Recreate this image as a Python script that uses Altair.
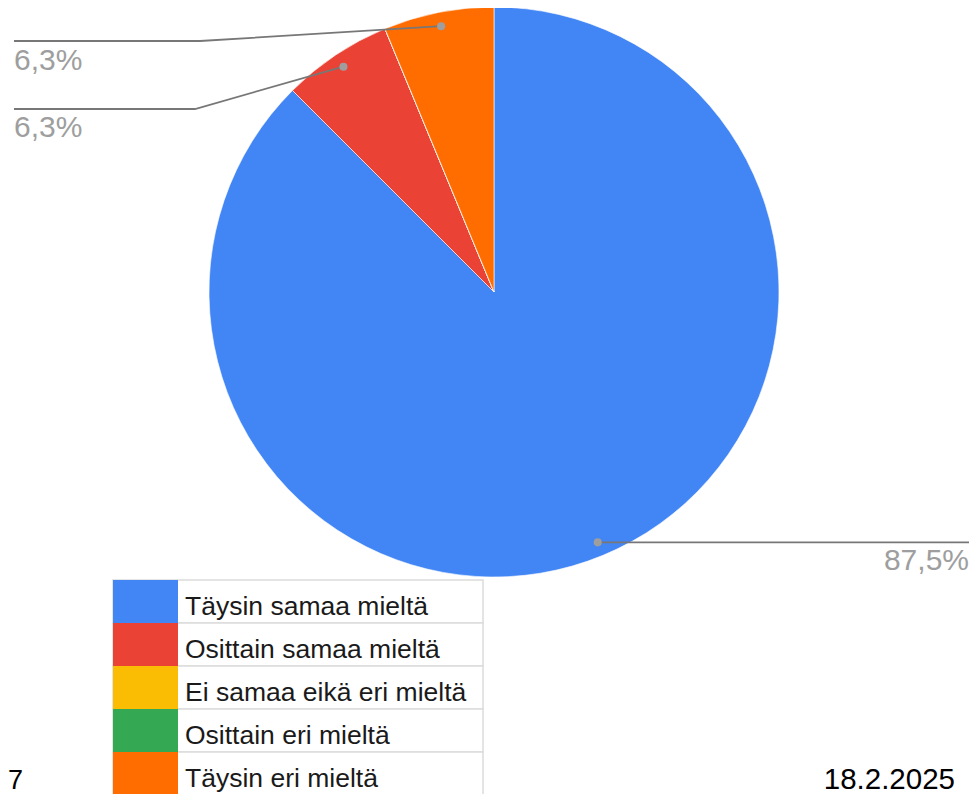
import math
import altair as alt
import pandas as pd

# ---- data ----
categories = ["Täysin samaa mieltä", "Osittain samaa mieltä", "Ei samaa eikä eri mieltä",
              "Osittain eri mieltä", "Täysin eri mieltä"]
values = [87.5, 6.25, 0, 0, 6.25]
colors = ["#4285F4", "#EA4335", "#FBBC04", "#34A853", "#FF6D01"]
footer_left = "7"
footer_right = "18.2.2025"

# ---- layout (chart pixel space) ----
W, H = 961, 786
CX, CY, R = 486, 284, 285
R_DOT = 271

pie_df = pd.DataFrame({"cat": categories, "value": values, "idx": list(range(len(categories)))})

color_scale = alt.Scale(domain=categories, range=colors)

pie = alt.Chart(pie_df).mark_arc(radius=R, stroke="white", strokeWidth=0.6).encode(
    theta=alt.Theta("value:Q", stack=True),
    order=alt.Order("idx:Q"),
    color=alt.Color("cat:N", scale=color_scale, legend=None),
    x=alt.value(CX), y=alt.value(CY),
)

# dots at slice centres, computed from the data
total = sum(values)
cum = 0.0
dots = []
for c, v in zip(categories, values):
    if v > 0:
        mid = (cum + v / 2) / total * 2 * math.pi
        label = (f"{math.floor(v * 10 + 0.5) / 10:.1f}").replace(".", ",") + "%"
        dots.append({"cat": c, "px": CX + R_DOT * math.sin(mid), "py": CY - R_DOT * math.cos(mid), "label": label})
    cum += v
dots_df = pd.DataFrame(dots)
dot_pos = {d["cat"]: (d["px"], d["py"]) for d in dots}

# leader lines (label placement)
lines = []
def add_line(name, pts):
    for i, (x, y) in enumerate(pts):
        lines.append({"g": name, "o": i, "lx": x, "ly": y})

add_line("o", [(6, 33), (192, 33), dot_pos["Täysin eri mieltä"]])
add_line("r", [(6, 101), (187, 101), dot_pos["Osittain samaa mieltä"]])
add_line("b", [dot_pos["Täysin samaa mieltä"], (961, dot_pos["Täysin samaa mieltä"][1])])
lines_df = pd.DataFrame(lines)

leader = alt.Chart(lines_df).mark_line(color="#777777", strokeWidth=1.8).encode(
    x=alt.X("lx:Q", scale=None), y=alt.Y("ly:Q", scale=None),
    detail="g:N", order="o:Q",
)
dot_marks = alt.Chart(dots_df).mark_circle(size=65, color="#9e9e9e", opacity=1).encode(
    x=alt.X("px:Q", scale=None), y=alt.Y("py:Q", scale=None),
)

lab_map = {d["cat"]: d["label"] for d in dots}
labels_df = pd.DataFrame([
    {"tx": 6, "ty": 62, "t": lab_map["Täysin eri mieltä"]},
    {"tx": 6, "ty": 129, "t": lab_map["Osittain samaa mieltä"]},
])
lab_left = alt.Chart(labels_df).mark_text(
    align="left", baseline="alphabetic", fontSize=30, font="Liberation Sans", color="#9e9e9e"
).encode(x=alt.X("tx:Q", scale=None), y=alt.Y("ty:Q", scale=None), text="t:N")
lab_right = alt.Chart(pd.DataFrame([{"tx": 961, "ty": 562, "t": lab_map["Täysin samaa mieltä"]}])).mark_text(
    align="right", baseline="alphabetic", fontSize=30, font="Liberation Sans", color="#9e9e9e"
).encode(x=alt.X("tx:Q", scale=None), y=alt.Y("ty:Q", scale=None), text="t:N")

# legend table
ROW0, ROWH = 572, 43
leg_df = pd.DataFrame({
    "cat": categories,
    "y0": [ROW0 + ROWH * i for i in range(len(categories))],
    "y1": [ROW0 + ROWH * (i + 1) for i in range(len(categories))],
    "ty": [ROW0 + 35 + ROWH * i for i in range(len(categories))],
})
leg_cells = alt.Chart(leg_df).mark_rect(fill="white", stroke="#dcdcdc", strokeWidth=1.5).encode(
    x=alt.value(105), x2=alt.value(475),
    y=alt.Y("y0:Q", scale=None), y2="y1:Q",
)
leg_sw = alt.Chart(leg_df).mark_rect().encode(
    x=alt.value(105), x2=alt.value(170),
    y=alt.Y("y0:Q", scale=None), y2="y1:Q",
    color=alt.Color("cat:N", scale=color_scale, legend=None),
)
leg_txt = alt.Chart(leg_df).mark_text(
    align="left", baseline="alphabetic", fontSize=26.5, font="Liberation Sans", color="#1a1a1a"
).encode(x=alt.value(177), y=alt.Y("ty:Q", scale=None), text="cat:N")

# footers
foot_l = alt.Chart(pd.DataFrame([{"fx": 0, "fy": 781, "t": footer_left}])).mark_text(
    align="left", baseline="alphabetic", fontSize=27, font="Liberation Sans", color="black"
).encode(x=alt.X("fx:Q", scale=None), y=alt.Y("fy:Q", scale=None), text="t:N")
foot_r = alt.Chart(pd.DataFrame([{"fx": 947, "fy": 781, "t": footer_right}])).mark_text(
    align="right", baseline="alphabetic", fontSize=29.5, font="Liberation Sans", color="black"
).encode(x=alt.X("fx:Q", scale=None), y=alt.Y("fy:Q", scale=None), text="t:N")

chart = alt.layer(
    pie, leader, dot_marks, lab_left, lab_right, leg_cells, leg_sw, leg_txt, foot_l, foot_r
).properties(
    width=W, height=H, autosize=alt.AutoSizeParams(type="none"), padding=0,
    background="white",
).configure_view(stroke=None)

chart.save("out.html", embed_options={"renderer": "svg", "actions": False})
